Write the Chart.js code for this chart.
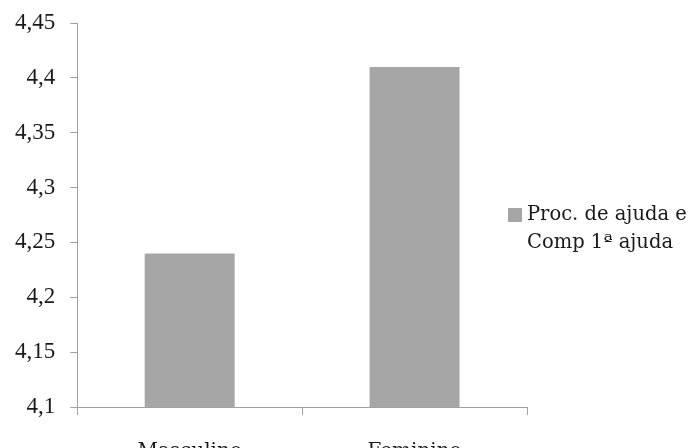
<!DOCTYPE html>
<html>
<head>
<meta charset="utf-8">
<script src="https://cdn.jsdelivr.net/npm/chart.js@4"></script>
<style>
  html, body { margin: 0; padding: 0; background: #fff; overflow: hidden; }
  #wrap { width: 688px; height: 489px; }
</style>
</head>
<body>
<div id="wrap"><canvas id="chart" width="688" height="489"></canvas></div>
<script>
const categories = ["Masculino", "Feminino"];
const seriesName = ["Proc. de ajuda e", "Comp 1ª ajuda"];
const seriesValues = [4.24, 4.41];
const yMin = 4.1;
const yMax = 4.45;
const yStep = 0.05;

const axisColor = "#a0a0a0";
const barColor = "#a6a6a6";

// legenda desenhada à direita, em duas linhas
const sideLegend = {
  id: "sideLegend",
  afterDraw(chart) {
    const ctx = chart.ctx;
    const x = 527;
    const y = 215;
    ctx.save();
    ctx.fillStyle = barColor;
    ctx.fillRect(x - 19, y - 7, 14, 14);
    ctx.fillStyle = "#1a1a1a";
    ctx.font = "19.5px 'DejaVu Serif'";
    ctx.textBaseline = "middle";
    ctx.textAlign = "left";
    seriesName.forEach((line, i) => ctx.fillText(line, x, y + i * 28));
    ctx.restore();
  }
};

new Chart(document.getElementById("chart"), {
  type: "bar",
  data: {
    labels: categories,
    datasets: [{
      label: seriesName.join(" "),
      data: seriesValues,
      backgroundColor: barColor,
      barPercentage: 0.8,
      categoryPercentage: 0.5
    }]
  },
  options: {
    responsive: false,
    animation: false,
    layout: { autoPadding: false, padding: { top: 23, right: 161, left: 0, bottom: 0 } },
    plugins: { legend: { display: false }, tooltip: { enabled: false } },
    scales: {
      x: {
        grid: { drawOnChartArea: false, drawTicks: true, tickLength: 8, color: axisColor, offset: true },
        border: { color: axisColor, width: 1 },
        ticks: { color: "#1a1a1a", padding: 25, font: { family: "DejaVu Serif", size: 20 } }
      },
      y: {
        min: yMin,
        max: yMax,
        grid: { drawOnChartArea: false, drawTicks: true, tickLength: 7, color: axisColor },
        border: { color: axisColor, width: 1 },
        ticks: {
          stepSize: yStep,
          color: "#1a1a1a",
          padding: 15,
          font: { family: "Liberation Serif", size: 23, lineHeight: 0.7 },
          callback: (v) => String(Number(v.toFixed(2))).replace(".", ",")
        }
      }
    }
  },
  plugins: [sideLegend]
});
</script>
</body>
</html>
